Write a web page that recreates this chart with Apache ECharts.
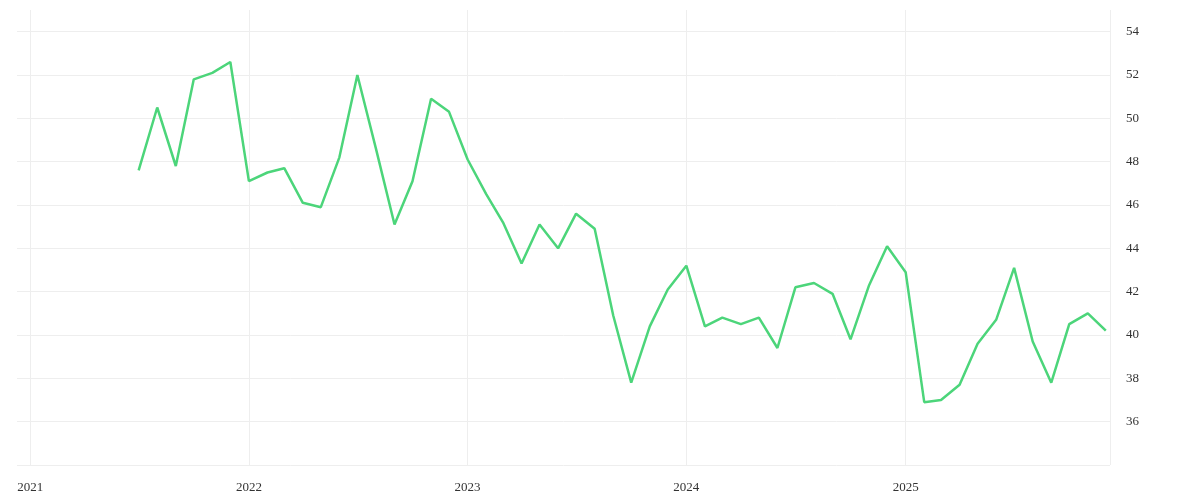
<!DOCTYPE html>
<html><head><meta charset="utf-8">
<script src="https://cdn.jsdelivr.net/npm/echarts@6/dist/echarts.min.js"></script>
<style>html,body{margin:0;padding:0;background:#fff}#c{width:1200px;height:500px}</style>
</head><body><div id="c"></div>
<script>
const startMonth = '2021-07';
const values = [47.6,50.5,47.8,51.8,52.1,52.6,
47.1,47.5,47.7,46.1,45.9,48.2,52.0,48.6,45.1,47.1,50.9,50.3,
48.1,46.5,45.2,43.3,45.1,44.0,45.6,44.9,40.9,37.8,40.4,42.1,
43.2,40.4,40.8,40.5,40.8,39.4,42.2,42.4,41.9,39.8,42.3,44.1,
42.9,36.9,37.0,37.7,39.6,40.7,43.1,39.7,37.8,40.5,41.0,40.2];
const yTicks = [36,38,40,42,44,46,48,50,52,54];
const data = values.map((v,i)=>{const d=new Date(Date.UTC(2021,6+i,1));return [d.getTime(),v];});
const chart = echarts.init(document.getElementById('c'));
const font = 'Liberation Serif, DejaVu Serif, serif';
chart.setOption({
  animation:false,
  grid:{left:17,right:90,top:10,bottom:35},
  xAxis:{type:'time',min:Date.UTC(2020,11,10),max:Date.UTC(2025,11,8),
    axisLine:{show:false},axisTick:{show:false},
    splitLine:{show:true,showMinLine:false,lineStyle:{color:'#eeeeee'}},
    axisLabel:{color:'#333',fontFamily:font,fontSize:13,margin:16,
      formatter:v=>{const d=new Date(v);return d.getUTCMonth()===0?String(d.getUTCFullYear()):'';}},
    interval:365.25*24*3600*1000, minInterval:365*24*3600*1000},
  yAxis:{type:'value',position:'right',min:34,max:55,interval:2,
    axisLine:{show:false},axisTick:{show:false},
    splitLine:{showMaxLine:false,lineStyle:{color:'#eeeeee'}},
    axisLabel:{color:'#333',fontFamily:font,fontSize:13,margin:16,
      formatter:v=>yTicks.includes(v)?String(v):''}},
  series:[{type:'line',data:data,symbol:'none',lineStyle:{color:'#4cd57a',width:2.5}}]
});
</script></body></html>
